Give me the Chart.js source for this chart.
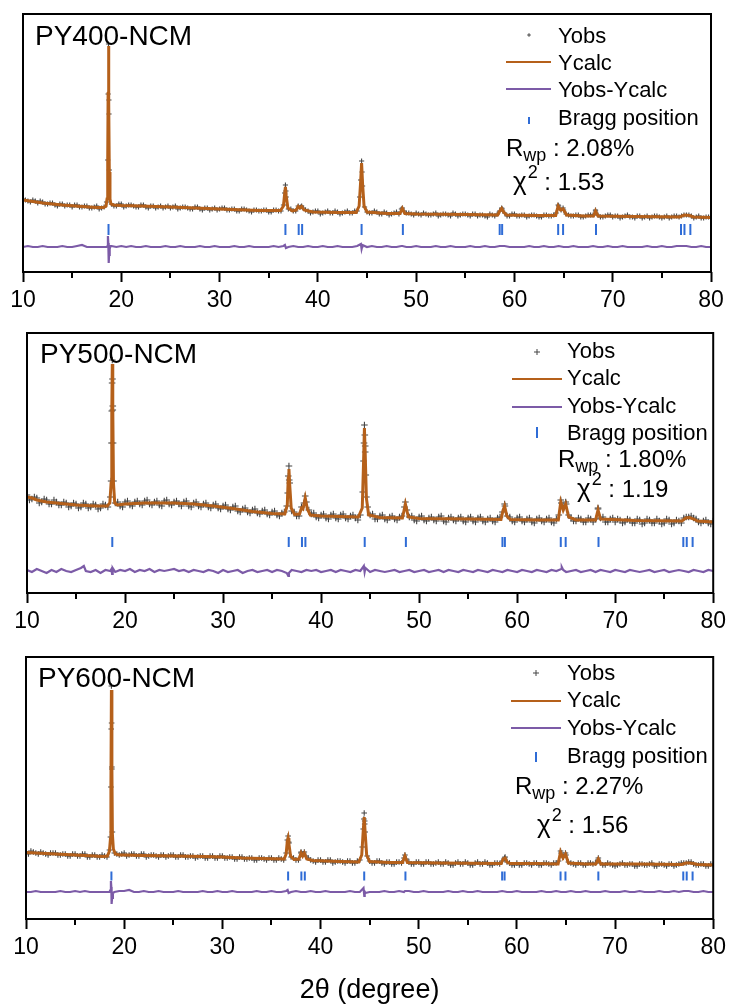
<!DOCTYPE html>
<html>
<head>
<meta charset="utf-8">
<title>Rietveld refinement of PY400/500/600-NCM</title>
<script src="https://cdn.jsdelivr.net/npm/chart.js@4.4.1/dist/chart.umd.min.js"></script>
<style>
  html, body { margin: 0; padding: 0; background: #fff; }
  #wrap { position: relative; width: 731px; height: 1008px; overflow: hidden; }
  #wrap canvas { position: absolute; left: 0; }
</style>
</head>
<body>
<div id="wrap">
  <canvas id="c400" width="731" height="320" style="top:0px"></canvas>
  <canvas id="c500" width="731" height="320" style="top:320px"></canvas>
  <canvas id="c600" width="731" height="368" style="top:640px"></canvas>
</div>
<script>
// ---------------------------------------------------------------
// Data (2θ in degrees, intensities in arbitrary units)
// ---------------------------------------------------------------
const sampleNames = ['PY400-NCM', 'PY500-NCM', 'PY600-NCM'];
const rwpValues = [2.08, 1.80, 2.27];   // %
const chi2Values = [1.53, 1.19, 1.56];

// observed scans: one list on the whole-/half-degree grid (10, 10.5 … 80)
// and one on the quarter positions in between (10.25, 10.75 … 79.75)
const obsStart = 10;
const obsMidStart = 10.25;
const obsStep = 0.5;

// reflection positions of the R-3m layered phase
const braggPositions = [18.7, 36.7, 38.05, 38.4, 44.45, 48.65, 58.5, 58.75, 64.45, 64.95, 68.3, 76.95, 77.3, 77.9];

// ---- PY400-NCM ----
const yobs400 = [
  73,71,72,69,70,68,69,66,68,67,
  65,67,65,66,64,66,64,70,68,66,
  68,66,67,65,67,65,66,64,66,65,
  64,66,64,65,63,65,63,64,62,64,
  63,64,62,63,61,63,61,62,61,62,
  60,62,61,67,63,61,66,64,61,60,
  61,59,61,59,60,59,61,59,61,100,
  60,59,60,58,59,58,60,63,59,58,
  59,57,58,57,59,57,58,56,58,57,
  58,56,58,57,56,58,56,61,59,56,
  58,56,57,56,57,55,57,56,57,66,
  62,57,56,57,55,57,57,57,55,57,
  55,56,55,57,55,56,54,56,55,56,
  54,56,55,56,56,57,56,55,54,55,
  54
];
const yobsMid400 = [
  72,70,71,71,68,69,67,68,66,67,
  67,65,66,64,65,63,65,158,66,68,
  65,67,66,65,67,64,66,65,64,66,
  65,63,65,64,63,65,62,64,63,62,
  64,62,63,61,63,62,60,62,61,62,
  60,62,61,81,63,61,65,62,59,61,
  58,60,59,61,58,60,59,61,75,65,
  59,61,58,60,57,59,58,61,59,57,
  58,59,57,58,56,58,57,59,56,58,
  57,58,56,57,55,57,58,63,56,58,
  56,57,55,57,56,55,57,56,59,62,
  58,56,57,55,56,57,61,55,56,57,
  56,54,56,55,54,56,55,54,56,55,
  55,54,56,55,57,57,54,56,54,55
];
const yobsPeak400 = [[18.62,112],[18.66,178],[18.70,228],[18.74,172],[18.78,102],[36.62,79],[36.70,87],[36.78,75],
  [38.35,66],[44.35,92],[44.45,111],[44.55,86],[48.6,64],[58.7,64],[64.45,67],[64.95,64],[68.25,62]];
const ycalc400 = [[10,72],[12,69],[14,67],[16,65.5],[17.5,64.5],[18.2,64.5],[18.45,66],[18.55,73],[18.62,110],[18.66,180],
  [18.7,226],[18.74,170],[18.78,100],[18.85,73],[18.95,68],[19.2,67],[20,66.5],[22,66],[25,65],[30,63],[34,61.5],
  [36.2,61.5],[36.5,66],[36.62,78],[36.7,85],[36.78,76],[36.95,64],[37.4,61],[37.8,62],[38.0,65.5],[38.15,64],
  [38.35,65.5],[38.6,62],[39.5,60],[42,59.5],[43.9,59.5],[44.2,66],[44.35,90],[44.45,109],[44.55,88],[44.7,66],
  [45,60],[47,58.5],[48.35,58.5],[48.6,63.5],[48.85,58.5],[50,58],[55,57.5],[58.3,57],[58.5,61],[58.7,63.5],
  [58.9,60],[59.2,57],[62,56.5],[64.2,56.5],[64.45,66],[64.7,62],[64.95,63],[65.3,57],[67,56],[68.05,56],
  [68.25,61],[68.5,56],[72,55.5],[76.8,55],[77.3,57],[77.8,56.5],[78.2,55],[80,54.5]];
const diff400 = [
  0,1,0,0,1,0,0,0,1,0,
  0,1,2,0,0,0,0,0,1,0,
  1,0,1,0,0,1,0,0,0,1,
  0,0,1,0,0,0,1,0,0,1,
  0,0,0,1,0,0,1,0,0,0,
  0,1,0,1,0,1,0,0,1,0,
  0,1,0,0,1,0,0,0,1,0,
  0,1,0,0,1,0,0,1,0,0,
  1,0,0,0,1,0,0,1,0,0,
  0,1,0,0,1,0,0,1,1,0,
  0,0,0,1,0,0,1,0,0,1,
  0,0,1,0,0,0,1,0,0,1,
  0,0,1,0,0,0,0,1,0,0,
  1,0,0,1,1,1,0,0,1,0,
  0
];
const diffPeak400 = [[18.6,1],[18.64,11],[18.68,4],[18.72,-16],[18.76,-8],[18.82,-2],[18.9,1],
  [36.65,2],[36.75,-1],[44.38,3],[44.45,-2],[44.52,2],[48.6,1]];

// ---- PY500-NCM ----
const yobs500 = [
  98,94,95,91,93,89,91,88,90,87,
  89,86,89,86,88,85,88,96,90,87,
  91,88,91,89,92,89,91,88,92,89,
  91,89,91,87,90,87,89,86,88,85,
  87,84,86,82,84,81,83,80,82,79,
  81,78,80,87,82,77,86,91,79,76,
  78,75,78,75,78,75,77,75,78,147,
  78,74,77,74,76,74,76,86,76,73,
  76,73,75,73,76,72,75,73,75,72,
  75,72,75,72,74,72,75,81,77,72,
  75,72,74,71,74,72,74,71,74,90,
  89,75,72,74,71,74,74,75,71,74,
  71,73,71,73,70,73,70,73,70,72,
  70,73,70,72,75,76,75,71,72,70,
  72
];
const yobsMid500 = [
  93,96,90,94,89,93,88,91,86,90,
  85,90,85,89,84,89,86,183,91,86,
  92,87,92,88,93,88,92,87,93,88,
  92,87,92,86,91,86,90,85,89,84,
  88,83,87,81,85,80,84,79,83,78,
  82,77,81,113,81,77,90,83,80,75,
  79,74,79,74,79,74,78,73,101,86,
  79,74,78,73,77,73,77,83,77,72,
  77,72,76,72,77,71,76,72,76,71,
  76,71,76,71,75,71,76,87,76,71,
  76,71,75,70,75,71,75,70,78,85,
  78,72,75,71,75,71,84,76,71,75,
  74,70,74,70,74,69,74,70,74,69,
  74,69,73,70,76,77,74,70,73,69
];
const yobsPeak500 = [[18.58,112],[18.62,150],[18.65,182],[18.68,210],[18.70,233],[18.72,214],[18.75,187],[18.78,150],
  [18.82,112],[36.6,100],[36.65,117],[36.72,127],[36.8,110],[38.38,97],[44.33,132],[44.38,150],[44.42,168],
  [44.46,158],[44.5,141],[44.56,118],[44.62,96],[48.6,91],[58.72,89],[64.45,93],[64.95,91],[68.25,85]];
const ycalc500 = [[10,96],[10.5,95],[11,93],[12,91],[13,90],[14,89],[15,88],[16,87.5],[17,87],[18.2,87],[18.45,90],
  [18.58,110],[18.65,180],[18.7,229],[18.75,185],[18.82,110],[18.95,90],[19.2,88],[20,89],[22,90],[25,90],[27,89],
  [29,87],[31,84.5],[33,81.5],[35,79.5],[36.3,79],[36.55,88],[36.65,115],[36.72,124],[36.8,108],[36.95,85],
  [37.3,78.5],[37.8,79],[38.0,85],[38.15,84],[38.38,95],[38.6,84],[38.9,78],[40,77],[43.8,76],[44.2,85],
  [44.33,130],[44.42,165],[44.5,140],[44.62,95],[44.85,78],[46,75.5],[48.3,75],[48.6,89],[48.9,76],[50,74.5],
  [55,74],[58.35,73.5],[58.55,82],[58.72,87],[58.95,77],[59.3,73.5],[62,73],[64.2,73],[64.45,91],[64.7,83],
  [64.95,89],[65.25,76],[66,73],[68.0,73],[68.25,83],[68.5,74],[72,72.5],[76.8,72],[77.2,75],[77.6,75.5],
  [78.0,74],[78.4,72],[80,71]];
const diff500 = [
  1,-1,2,0,-2,1,-1,2,0,-1,
  1,3,0,-1,1,-2,1,0,-1,1,
  0,2,-1,1,0,2,-1,1,0,1,
  2,0,1,-1,1,0,-1,1,0,-2,
  1,-1,0,1,-2,0,1,-1,0,1,
  -1,1,0,-2,1,0,-1,1,0,1,
  -1,0,1,-1,1,0,-1,1,0,2,
  -1,1,0,-1,0,1,-1,0,1,-1,
  0,1,-1,0,1,-1,1,0,-1,1,
  0,-1,1,0,-1,1,0,-1,1,0,
  -1,1,0,-1,1,0,-1,1,0,2,
  -1,0,1,-1,0,1,-1,1,0,-1,
  1,0,-1,1,0,-1,0,1,-1,0,
  1,-1,0,1,0,-1,1,0,-1,1,
  0
];
const diffPeak500 = [[15.8,5],[18.62,2],[18.68,-3],[18.74,3],[36.65,-5],[36.72,-2],[44.36,5],[44.44,-1],[44.52,3],
  [64.55,4],[64.7,1]];

// ---- PY600-NCM ----
const yobs600 = [
  67,68,66,67,65,66,66,64,65,63,
  65,63,65,62,64,62,63,69,66,64,
  66,64,65,63,65,63,64,62,64,63,
  64,62,64,62,63,62,63,61,63,61,
  63,61,62,60,62,60,61,59,61,59,
  61,59,60,66,62,59,66,63,59,57,
  59,57,59,57,58,56,58,56,59,95,
  58,56,58,55,57,55,57,61,57,55,
  57,55,57,55,57,55,56,54,57,55,
  56,54,57,55,56,54,56,58,57,54,
  56,54,56,54,56,54,56,54,56,66,
  64,56,54,56,54,56,56,56,54,55,
  53,55,54,55,53,55,54,55,53,55,
  54,55,53,55,56,57,55,54,55,53,
  54
];
const yobsMid600 = [
  65,67,65,66,64,66,64,65,63,65,
  63,65,62,64,62,64,62,150,65,65,
  63,65,63,65,62,64,63,64,62,64,
  62,64,62,63,61,63,61,63,61,63,
  61,62,60,62,60,61,59,61,60,61,
  59,61,59,77,61,59,65,61,58,59,
  57,59,56,58,57,58,56,58,72,63,
  56,58,56,57,55,57,56,60,55,57,
  55,57,55,56,55,57,54,56,55,57,
  54,56,55,57,54,56,55,61,56,54,
  54,56,55,56,54,56,55,56,58,62,
  57,55,56,54,56,55,59,54,56,54,
  54,56,54,55,53,55,54,56,53,55,
  53,55,54,56,56,57,54,55,53,55
];
const yobsPeak600 = [[18.6,82],[18.65,132],[18.68,190],[18.7,233],[18.72,196],[18.75,152],[18.8,87],[36.62,79],
  [36.7,83],[36.78,76],[38.02,67],[38.35,67],[44.35,90],[44.42,100],[44.45,106],[44.5,98],[44.55,87],[48.6,64],
  [58.8,62],[64.45,68],[64.95,66],[68.3,61]];
const ycalc600 = [[10,66.5],[11,66],[12,65.5],[13,65],[14,64.5],[15,64],[16,63.5],[17,63],[17.8,62.5],[18.3,63],
  [18.5,68],[18.6,80],[18.65,130],[18.7,229],[18.75,150],[18.8,85],[18.9,70],[19.1,65],[19.5,64],[20,64],[22,63.5],
  [25,63],[28,62.5],[30,62],[32,61],[34,60.5],[36.3,60],[36.5,65],[36.62,78],[36.7,81],[36.78,75],[36.95,63],
  [37.3,59.5],[37.8,60],[38.02,66],[38.18,63],[38.35,66],[38.6,60],[39.2,58.5],[42,57.5],[43.9,57],[44.2,64],
  [44.35,88],[44.45,102],[44.55,86],[44.7,64],[45,57.5],[47,56.5],[48.35,56.5],[48.6,63],[48.85,56.5],[52,56],
  [58.4,55.5],[58.6,60],[58.8,61],[59,57],[59.3,55.5],[62,55.5],[64.2,55],[64.45,67],[64.7,61],[64.95,65],
  [65.25,56],[67,55],[68.05,55],[68.3,60],[68.55,55],[72,55],[76.8,54.5],[77.2,56],[77.6,56],[78,55.5],
  [78.4,54.5],[80,54]];
const diff600 = [
  0,0,1,0,0,0,0,1,0,0,
  1,0,1,0,0,0,0,0,0,1,
  1,2,0,0,1,0,0,1,0,0,
  0,1,0,0,0,0,1,0,0,1,
  0,0,1,0,0,0,0,1,0,0,
  1,0,0,1,0,1,0,0,1,0,
  0,1,0,0,0,0,1,0,0,0,
  0,0,0,1,0,0,1,0,1,0,
  0,1,0,0,0,0,1,0,0,1,
  0,0,1,0,0,0,0,1,0,0,
  1,0,0,0,0,1,0,0,1,0,
  0,1,0,0,1,0,0,0,1,0,
  0,0,1,0,0,1,0,0,0,1,
  0,0,1,0,1,1,0,0,1,0,
  0
];
const diffPeak600 = [[18.6,2],[18.65,11],[18.69,5],[18.72,-12],[18.77,-6],[18.85,-1],[36.65,2],[36.75,-1],
  [44.38,4],[44.46,-4],[44.54,-1],[48.6,1]];

// ---------------------------------------------------------------
// Styling and panel layout
// ---------------------------------------------------------------
const FONT = '"Liberation Sans", Arial, Helvetica, sans-serif';
const COLORS = { obs: '#454545', calc: '#b5601a', diff: '#7c5ba7', bragg: '#2f6cd6', ink: '#000000' };

const panels = [
  { canvas: 'c400', name: sampleNames[0], rwp: rwpValues[0], chi2: chi2Values[0],
    yobs: yobs400, yobsMid: yobsMid400, yobsPeak: yobsPeak400, ycalc: ycalc400, diff: diff400, diffPeak: diffPeak400,
    layout: { pad: { left: 23, right: 20, top: 14, bottom: 0 }, axisH: 48, showTitle: false,
      yMax: 258, diffOffset: 25, braggLevel: 42.5, braggR: 5.5, crossR: 2.6,
      title: [35, 45],
      legend: { mx: 529, tx: 558, lx0: 506, lx1: 551, cross: 1.8,
        obsY: 35, obsB: 43, calcY: 62, calcB: 70, diffY: 89, diffB: 97, bragg: [117, 124], braggB: 125 },
      rwpAt: [506, 156], chiAt: [513, 190] } },
  { canvas: 'c500', name: sampleNames[1], rwp: rwpValues[1], chi2: chi2Values[1],
    yobs: yobs500, yobsMid: yobsMid500, yobsPeak: yobsPeak500, ycalc: ycalc500, diff: diff500, diffPeak: diffPeak500,
    layout: { pad: { left: 27, right: 17, top: 13, bottom: 0 }, axisH: 47, showTitle: false,
      yMax: 260, diffOffset: 22, braggLevel: 51, braggR: 5, crossR: 3.3,
      title: [40, 43],
      legend: { mx: 537, tx: 567, lx0: 512, lx1: 562, cross: 3,
        obsY: 32, obsB: 38, calcY: 59, calcB: 65, diffY: 87, diffB: 93, bragg: [107, 118], braggB: 120 },
      rwpAt: [558, 147], chiAt: [577, 177] } },
  { canvas: 'c600', name: sampleNames[2], rwp: rwpValues[2], chi2: chi2Values[2],
    yobs: yobs600, yobsMid: yobsMid600, yobsPeak: yobsPeak600, ycalc: ycalc600, diff: diff600, diffPeak: diffPeak600,
    layout: { pad: { left: 26, right: 15, top: 17, bottom: 0 }, axisH: 89, showTitle: true,
      yMax: 262, diffOffset: 27, braggLevel: 43, braggR: 4.5, crossR: 2.8,
      title: [38, 47],
      legend: { mx: 536, tx: 567, lx0: 511, lx1: 561, cross: 3,
        obsY: 33, obsB: 40, calcY: 61, calcB: 67, diffY: 88, diffB: 95, bragg: [112, 122], braggB: 123 },
      rwpAt: [515, 154], chiAt: [537, 193] } }
];

// ---------------------------------------------------------------
// Helpers
// ---------------------------------------------------------------
const onGrid = (values, start) => values.map((v, i) => ({ x: start + i * obsStep, y: v }));
const fromPairs = list => list.map(([x, y]) => ({ x, y }));

// Frame, minor ticks, sample name and the in-plot key
const panelDecor = {
  id: 'panelDecor',
  afterDraw(chart, args, o) {
    const { ctx, chartArea: a } = chart;
    const xs = chart.scales.x;
    const lg = o.legend;
    ctx.save();
    ctx.strokeStyle = COLORS.ink;
    ctx.lineWidth = 2;
    ctx.lineCap = 'butt';

    // minor ticks halfway between labelled ticks
    const t = xs.ticks;
    for (let i = 0; i < t.length - 1; i++) {
      const px = Math.round(xs.getPixelForValue((t[i].value + t[i + 1].value) / 2));
      ctx.beginPath();
      ctx.moveTo(px, a.bottom);
      ctx.lineTo(px, a.bottom + 6);
      ctx.stroke();
    }
    // plot frame
    ctx.strokeRect(a.left, a.top, a.right - a.left, a.bottom - a.top);

    ctx.fillStyle = COLORS.ink;
    ctx.textBaseline = 'alphabetic';
    ctx.textAlign = 'left';

    // sample name
    ctx.font = `28px ${FONT}`;
    ctx.fillText(o.name, o.title[0], o.title[1]);

    // key: Yobs
    ctx.strokeStyle = COLORS.obs;
    ctx.lineWidth = 1;
    ctx.beginPath();
    ctx.moveTo(lg.mx - lg.cross, lg.obsY); ctx.lineTo(lg.mx + lg.cross, lg.obsY);
    ctx.moveTo(lg.mx, lg.obsY - lg.cross); ctx.lineTo(lg.mx, lg.obsY + lg.cross);
    ctx.stroke();
    // key: Ycalc
    ctx.lineWidth = 2;
    ctx.strokeStyle = COLORS.calc;
    ctx.beginPath(); ctx.moveTo(lg.lx0, lg.calcY); ctx.lineTo(lg.lx1, lg.calcY); ctx.stroke();
    // key: Yobs-Ycalc
    ctx.strokeStyle = COLORS.diff;
    ctx.beginPath(); ctx.moveTo(lg.lx0, lg.diffY); ctx.lineTo(lg.lx1, lg.diffY); ctx.stroke();
    // key: Bragg position
    ctx.strokeStyle = COLORS.bragg;
    ctx.beginPath(); ctx.moveTo(lg.mx, lg.bragg[0]); ctx.lineTo(lg.mx, lg.bragg[1]); ctx.stroke();

    ctx.font = `22px ${FONT}`;
    ctx.fillText('Yobs', lg.tx, lg.obsB);
    ctx.fillText('Ycalc', lg.tx, lg.calcB);
    ctx.fillText('Yobs-Ycalc', lg.tx, lg.diffB);
    ctx.fillText('Bragg position', lg.tx, lg.braggB);

    // refinement statistics
    const big = `24px ${FONT}`, small = `18px ${FONT}`;
    let [x, b] = o.rwpAt;
    ctx.font = big; ctx.fillText('R', x, b); x += ctx.measureText('R').width;
    ctx.font = small; ctx.fillText('wp', x, b + 5); x += ctx.measureText('wp').width;
    ctx.font = big; ctx.fillText(' : ' + o.rwp.toFixed(2) + '%', x, b);

    [x, b] = o.chiAt;
    ctx.font = `26px ${FONT}`; ctx.fillText('\u03C7', x, b); x += ctx.measureText('\u03C7').width + 1;
    ctx.font = small; ctx.fillText('2', x, b - 12); x += ctx.measureText('2').width;
    ctx.font = big; ctx.fillText(' : ' + o.chi2.toFixed(2), x, b);
    ctx.restore();
  }
};

function buildPanel(p) {
  const L = p.layout;
  const obs = onGrid(p.yobs, obsStart)
    .concat(onGrid(p.yobsMid, obsMidStart))
    .concat(fromPairs(p.yobsPeak));
  const calc = fromPairs(p.ycalc);
  const diff = onGrid(p.diff, obsStart).concat(fromPairs(p.diffPeak))
    .sort((u, v) => u.x - v.x)
    .map(pt => ({ x: pt.x, y: pt.y + L.diffOffset }));
  const bragg = braggPositions.map(x => ({ x, y: L.braggLevel }));

  return new Chart(document.getElementById(p.canvas), {
    type: 'scatter',
    data: {
      datasets: [
        { label: 'Ycalc', data: calc, showLine: true, borderColor: COLORS.calc, borderWidth: 3,
          pointRadius: 0, tension: 0, order: 1 },
        { label: 'Yobs', data: obs, showLine: false, pointStyle: 'cross', pointRadius: L.crossR,
          pointBorderColor: COLORS.obs, pointBackgroundColor: COLORS.obs, pointBorderWidth: 1.1, order: 2 },
        { label: 'Yobs-Ycalc', data: diff, showLine: true, borderColor: COLORS.diff, borderWidth: 2.2,
          pointRadius: 0, tension: 0, order: 3 },
        { label: 'Bragg position', data: bragg, showLine: false, pointStyle: 'line', pointRotation: 90,
          pointRadius: L.braggR, pointBorderColor: COLORS.bragg, pointBorderWidth: 2, order: 4 }
      ]
    },
    options: {
      responsive: false,
      maintainAspectRatio: false,
      animation: false,
      events: [],
      layout: { padding: L.pad },
      scales: {
        x: {
          type: 'linear', position: 'bottom', min: 10, max: 80,
          afterFit: s => { s.height = L.axisH; },
          ticks: { stepSize: 10, padding: 5, color: COLORS.ink, maxRotation: 0, autoSkip: false,
            font: { family: FONT, size: 23 } },
          grid: { display: true, drawOnChartArea: false, drawTicks: true, tickLength: 10,
            tickWidth: 2, tickColor: COLORS.ink },
          border: { display: false },
          title: { display: L.showTitle, text: '2\u03B8 (degree)', color: COLORS.ink,
            font: { family: FONT, size: 27 }, padding: { top: 0, bottom: 1 } }
        },
        y: { display: false, min: 0, max: L.yMax }
      },
      plugins: {
        legend: { display: false },
        tooltip: { enabled: false },
        panelDecor: { name: p.name, rwp: p.rwp, chi2: p.chi2, title: L.title, legend: L.legend,
          rwpAt: L.rwpAt, chiAt: L.chiAt }
      }
    },
    plugins: [panelDecor]
  });
}

panels.forEach(buildPanel);
</script>
</body>
</html>
